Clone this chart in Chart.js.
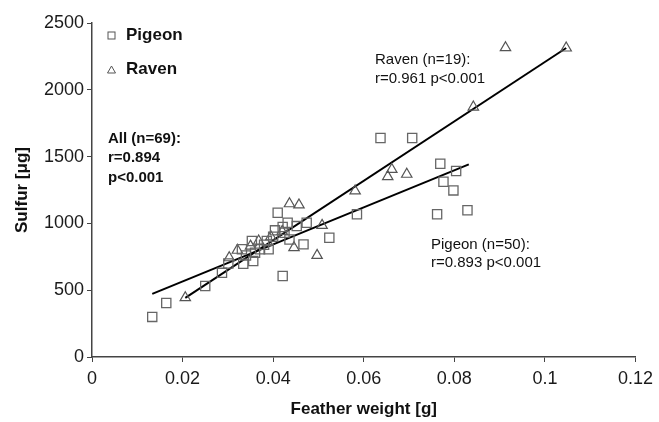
<!DOCTYPE html>
<html>
<head>
<meta charset="utf-8">
<script src="https://cdn.jsdelivr.net/npm/chart.js@4.4.0/dist/chart.umd.min.js"></script>
<style>
    html, body { margin: 0; padding: 0; background: #fff; }
</style>
</head>
<body>
<canvas id="Chart" width="659" height="422"></canvas>
<script>
// данные (x - вес пера, г; y - сера, мкг)
var pigeonX = [0.0133, 0.0164, 0.0250, 0.0287, 0.0301, 0.0331, 0.0334, 0.0353, 0.0356, 0.0371,
               0.0386, 0.0390, 0.0404, 0.0410, 0.0421, 0.0421, 0.0432, 0.0436, 0.0452, 0.0467,
               0.0474, 0.0524, 0.0585, 0.0637, 0.0707, 0.0762, 0.0769, 0.0776, 0.0798, 0.0804,
               0.0829, 0.0340, 0.0380, 0.0400, 0.0425, 0.0360];
var pigeonY = [300, 404, 531, 630, 700, 806, 698, 868, 718, 806,
               868, 806, 948, 1080, 973, 606, 1005, 880, 980, 843,
               1005, 893, 1068, 1639, 1639, 1068, 1447, 1312, 1247, 1392,
               1098, 760, 840, 900, 930, 780];

var ravenX = [0.0206, 0.0303, 0.0321, 0.0368, 0.0436, 0.0446, 0.0457, 0.0497, 0.0508, 0.0581,
              0.0653, 0.0662, 0.0695, 0.0842, 0.0913, 0.1047, 0.0395, 0.0420, 0.0350];
var ravenY = [444, 743, 799, 868, 1147, 818, 1138, 761, 985, 1243,
              1350, 1404, 1368, 1871, 2315, 2313, 900, 940, 830];

// линии регрессии (концы)
var pigeonFitX = [0.0133, 0.0832];
var pigeonFitY = [472, 1442];
var ravenFitX = [0.0206, 0.1047];
var ravenFitY = [442, 2313];

var xTicks = [0, 0.02, 0.04, 0.06, 0.08, 0.1, 0.12];
var yTicks = [0, 500, 1000, 1500, 2000, 2500];

var FONT = "'Liberation Sans', Arial, sans-serif";

function toPoints(xs, ys) {
    var pts = [];
    for (var i = 0; i < xs.length; i++) {
        pts.push({ x: xs[i], y: ys[i] });
    }
    return pts;
}

/**
 * подписи, легенда и статистика поверх графика */
var textPlugin = {
    id: 'textPlugin',
    afterDraw: function (chart) {
        var ctx = chart.ctx;
        ctx.save();
        ctx.fillStyle = '#111';
        ctx.textBaseline = 'middle';
        ctx.textAlign = 'left';

        // легенда
        ctx.strokeStyle = '#555';
        ctx.lineWidth = 1;
        ctx.strokeRect(108, 32, 7, 7);
        ctx.beginPath();
        ctx.moveTo(111.5, 66);
        ctx.lineTo(115.5, 73);
        ctx.lineTo(107.5, 73);
        ctx.closePath();
        ctx.stroke();
        ctx.font = "bold 17px " + FONT;
        ctx.fillText('Pigeon', 126, 35);
        ctx.fillText('Raven', 126, 69);

        // общая статистика
        ctx.font = "bold 15px " + FONT;
        ctx.fillText('All (n=69):', 108, 139);
        ctx.fillText('r=0.894', 108, 158);
        ctx.fillText('p<0.001', 108, 178);

        ctx.font = "15px " + FONT;
        ctx.fillText('Raven (n=19):', 375, 60);
        ctx.fillText('r=0.961 p<0.001', 375, 79);
        ctx.fillText('Pigeon (n=50):', 431, 245);
        ctx.fillText('r=0.893 p<0.001', 431, 263);
        ctx.restore();
    }
};

var data = {
    datasets: [{
        label: 'Pigeon',
        type: 'scatter',
        data: toPoints(pigeonX, pigeonY),
        pointStyle: 'rect',
        pointRadius: 6.5,
        backgroundColor: 'rgba(255,255,255,0)',
        borderColor: '#666',
        borderWidth: 1.3
    }, {
        label: 'Raven',
        type: 'scatter',
        data: toPoints(ravenX, ravenY),
        pointStyle: 'triangle',
        pointRadius: 6,
        backgroundColor: 'rgba(255,255,255,0)',
        borderColor: '#555',
        borderWidth: 1.2
    }, {
        label: 'Pigeon fit',
        type: 'line',
        data: toPoints(pigeonFitX, pigeonFitY),
        borderColor: '#000',
        borderWidth: 2,
        pointRadius: 0,
        fill: false
    }, {
        label: 'Raven fit',
        type: 'line',
        data: toPoints(ravenFitX, ravenFitY),
        borderColor: '#000',
        borderWidth: 2,
        pointRadius: 0,
        fill: false
    }]
};

var config = {
    type: 'scatter',
    data: data,
    options: {
        responsive: false,
        animation: false,
        layout: { padding: { top: 23, right: 22, bottom: 0, left: 0 } },
        plugins: {
            legend: { display: false },
            tooltip: { enabled: false }
        },
        scales: {
            x: {
                type: 'linear',
                min: 0,
                max: 0.12,
                afterBuildTicks: function (scale) {
                    scale.ticks = xTicks.map(function (v) { return { value: v }; });
                },
                afterFit: function (scale) { scale.height = 65; },
                ticks: {
                    color: '#1a1a1a',
                    font: { family: FONT, size: 18 },
                    padding: 6,
                    maxRotation: 0,
                    callback: function (v) { return String(+v.toFixed(2)); }
                },
                grid: { drawOnChartArea: false, drawTicks: true, tickLength: 5, color: '#444' },
                border: { display: true, color: '#444', width: 1.5 },
                title: {
                    display: true,
                    text: 'Feather weight [g]',
                    color: '#111',
                    font: { family: FONT, size: 17, weight: 'bold' },
                    padding: { top: 0, bottom: 2 }
                }
            },
            y: {
                type: 'linear',
                min: 0,
                max: 2500,
                afterBuildTicks: function (scale) {
                    scale.ticks = yTicks.map(function (v) { return { value: v }; });
                },
                afterFit: function (scale) { scale.width = 92; },
                ticks: {
                    color: '#1a1a1a',
                    font: { family: FONT, size: 18 },
                    padding: 3,
                    callback: function (v) { return String(v); }
                },
                grid: { drawOnChartArea: false, drawTicks: true, tickLength: 5, color: '#444' },
                border: { display: true, color: '#444', width: 1.5 },
                title: {
                    display: true,
                    text: 'Sulfur [μg]',
                    color: '#111',
                    font: { family: FONT, size: 17, weight: 'bold' },
                    padding: { top: 12, bottom: 0 }
                }
            }
        }
    },
    plugins: [textPlugin]
};

var myChart = new Chart(document.getElementById('Chart'), config);
</script>
</body>
</html>
